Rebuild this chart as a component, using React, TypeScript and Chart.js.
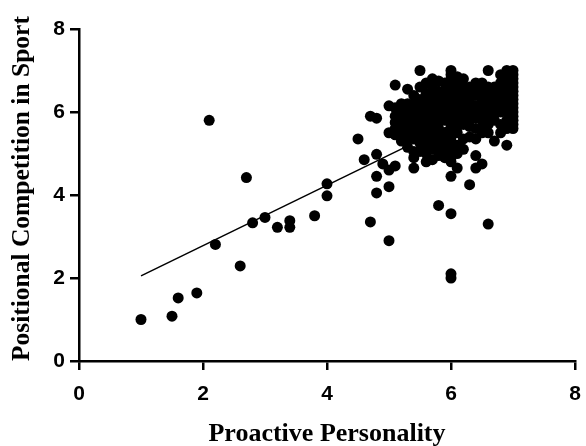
import React, { useEffect, useRef } from "react";
import { Chart, registerables } from "chart.js";

Chart.register(...registerables);

// Sparse points (lower-left)
const sparseX = [1.0, 1.5, 1.6, 1.9, 2.1, 2.2, 2.6, 2.7, 2.8, 3.0, 3.2, 3.4, 3.4, 3.8, 4.0, 4.0, 4.5, 4.6, 4.7, 4.7, 4.9];
const sparseY = [1.0, 1.08, 1.52, 1.64, 5.8, 2.81, 2.29, 4.42, 3.33, 3.46, 3.22, 3.38, 3.22, 3.5, 4.27, 3.98, 5.35, 4.85, 5.9, 3.35, 4.75];

// Dense cluster, grouped by x value
const clusterX = [7.0, 6.9, 6.8, 6.7, 6.6, 6.5, 6.4, 6.3, 6.2, 6.1, 6.0, 5.9, 5.8, 5.7, 5.6, 5.5, 5.4, 5.3, 5.2, 5.1, 5.0, 4.8];
const clusterY = [
  [7.0, 6.9, 6.8, 6.7, 6.6, 6.5, 6.4, 6.3, 6.2, 6.1, 6.0, 5.9, 5.8, 5.7, 5.6],
  [7.0, 6.8, 6.6, 6.4, 6.2, 6.0, 5.8, 5.6, 5.2],
  [6.9, 6.7, 6.5, 6.3, 6.1, 6.0, 5.7, 5.5],
  [6.6, 6.4, 6.2, 6.1, 5.95, 5.8, 5.3],
  [7.0, 6.6, 6.4, 6.2, 6.0, 5.9, 5.7, 5.5, 3.3],
  [6.7, 6.5, 6.3, 6.1, 6.0, 5.8, 5.6, 5.5, 4.75],
  [6.7, 6.55, 6.4, 6.15, 6.0, 5.85, 5.6, 5.35, 4.95, 4.65],
  [6.6, 6.5, 6.3, 6.15, 6.0, 5.8, 5.65, 5.4, 4.25],
  [6.8, 6.6, 6.45, 6.3, 6.2, 6.0, 5.9, 5.7, 5.35, 5.1],
  [6.85, 6.7, 6.5, 6.3, 6.1, 5.95, 5.8, 5.65, 5.5, 5.2, 5.0, 4.65],
  [7.0, 6.9, 6.8, 6.6, 6.5, 6.4, 6.2, 6.1, 6.0, 5.9, 5.8, 5.7, 5.6, 5.4, 5.3, 5.2, 5.0, 4.9, 4.8, 4.45, 3.55, 2.1, 2.0],
  [6.7, 6.5, 6.3, 6.15, 6.0, 5.8, 5.5, 5.3, 5.1, 4.9],
  [6.75, 6.5, 6.35, 6.2, 6.05, 5.9, 5.75, 5.6, 5.45, 5.3, 5.1, 4.95, 3.75],
  [6.8, 6.6, 6.45, 6.3, 6.15, 6.0, 5.85, 5.7, 5.55, 5.4, 5.25, 5.1, 4.85],
  [6.7, 6.45, 6.3, 6.1, 5.95, 5.8, 5.65, 5.5, 5.35, 5.2, 5.0, 4.8],
  [7.0, 6.6, 6.3, 6.15, 6.0, 5.85, 5.7, 5.55, 5.4, 5.25, 5.05],
  [6.4, 6.2, 6.05, 5.9, 5.75, 5.6, 5.5, 5.35, 5.05, 4.9, 4.65],
  [6.55, 6.2, 6.0, 5.85, 5.7, 5.5, 5.35, 5.15],
  [6.2, 6.0, 5.8, 5.65, 5.5, 5.3],
  [6.65, 6.1, 5.9, 5.75, 5.6, 5.45, 4.7],
  [6.15, 5.5, 4.6, 4.2, 2.9],
  [5.85, 4.98, 4.45, 4.05],
];

// Regression line endpoints
const fitX = [1.0, 7.0];
const fitY = [2.05, 6.42];

const xTicks = [0, 2, 4, 6, 8];
const yTicks = [0, 2, 4, 6, 8];
const xTitle = "Proactive Personality";
const yTitle = "Positional Competition in Sport";

export default function App() {
  const canvasRef = useRef<HTMLCanvasElement | null>(null);

  useEffect(() => {
    const canvas = canvasRef.current;
    if (!canvas) return;
    const points: { x: number; y: number }[] = [];
    sparseX.forEach((x, i) => points.push({ x, y: sparseY[i] }));
    clusterX.forEach((x, i) => clusterY[i].forEach((y) => points.push({ x, y })));
    const fit = fitX.map((x, i) => ({ x, y: fitY[i] }));

    const tickFont = { family: "'Liberation Sans', Arial, sans-serif", size: 21, weight: "bold" as const };
    const xTitleFont = { family: "'Liberation Serif', 'Times New Roman', serif", size: 26, weight: "bold" as const, lineHeight: 1 };
    const yTitleFont = { family: "'Liberation Serif', 'Times New Roman', serif", size: 25.5, weight: "bold" as const, lineHeight: 1 };

    const chart = new Chart(canvas, {
      type: "scatter",
      data: {
        datasets: [
          {
            type: "line",
            data: fit,
            borderColor: "#000",
            borderWidth: 1.5,
            pointRadius: 0,
            fill: false,
            order: 2,
          } as any,
          {
            data: points,
            backgroundColor: "#000",
            borderColor: "#000",
            borderWidth: 0,
            pointRadius: 5.5,
            order: 1,
          },
        ],
      },
      options: {
        animation: false,
        responsive: false,
        maintainAspectRatio: false,
        layout: { padding: { left: 0, right: 11, top: 29, bottom: 0 } },
        plugins: { legend: { display: false }, tooltip: { enabled: false } },
        scales: {
          x: {
            type: "linear",
            min: 0,
            max: 8,
            afterBuildTicks: (s: any) => {
              s.ticks = xTicks.map((v) => ({ value: v }));
            },
            afterFit: (s: any) => {
              s.height = 85;
              s.paddingLeft = 0;
              s.paddingRight = 0;
            },
            ticks: { color: "#000", font: tickFont, padding: 12, maxRotation: 0 },
            grid: { drawOnChartArea: false, drawTicks: true, tickLength: 9, color: "#000", lineWidth: 2.5 },
            border: { display: true, color: "#000", width: 2.5 },
            title: { display: true, text: xTitle, color: "#000", font: xTitleFont, padding: { top: 0, bottom: -1 } },
          },
          y: {
            type: "linear",
            min: 0,
            max: 8,
            afterBuildTicks: (s: any) => {
              s.ticks = yTicks.map((v) => ({ value: v }));
            },
            afterFit: (s: any) => {
              s.width = 79;
            },
            ticks: { color: "#000", font: tickFont, padding: 5 },
            grid: { drawOnChartArea: false, drawTicks: true, tickLength: 9, color: "#000", lineWidth: 2.5 },
            border: { display: true, color: "#000", width: 2.5 },
            title: { display: true, text: "\u00a0\u00a0" + yTitle, color: "#000", font: yTitleFont, padding: { top: 10, bottom: 0 } },
          },
        },
      },
    });
    return () => chart.destroy();
  }, []);

  return (
    <div style={{ position: "absolute", left: 0, top: 0, width: 586, height: 446, background: "#fff" }}>
      <canvas ref={canvasRef} width={586} height={446} style={{ display: "block", width: 586, height: 446 }} />
    </div>
  );
}
